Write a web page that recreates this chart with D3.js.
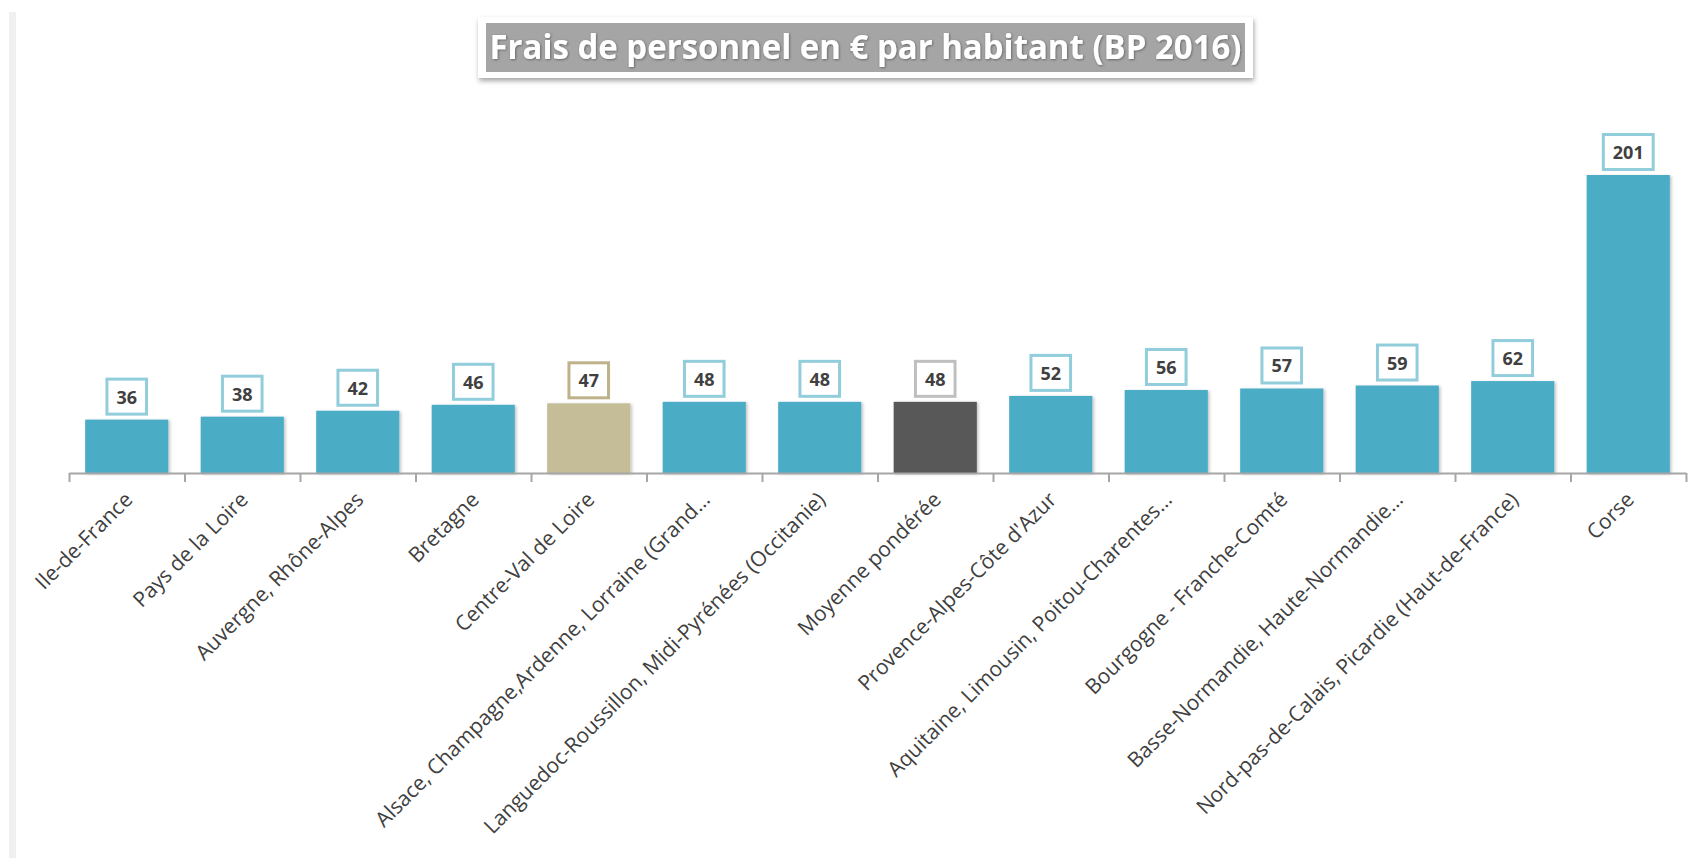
<!DOCTYPE html>
<html>
<head>
<meta charset="utf-8">
<script src="https://cdn.jsdelivr.net/npm/d3@7"></script>
<style>
  body { margin: 0; background: #fff; }
  svg { display: block; }
</style>
</head>
<body>
<svg id="chart"></svg>
<script>
// data
const categories = [
  "Ile-de-France",
  "Pays de la Loire",
  "Auvergne, Rhône-Alpes",
  "Bretagne",
  "Centre-Val de Loire",
  "Alsace, Champagne,Ardenne, Lorraine (Grand…",
  "Languedoc-Roussillon, Midi-Pyrénées (Occitanie)",
  "Moyenne pondérée",
  "Provence-Alpes-Côte d'Azur",
  "Aquitaine, Limousin, Poitou-Charentes…",
  "Bourgogne - Franche-Comté",
  "Basse-Normandie, Haute-Normandie…",
  "Nord-pas-de-Calais, Picardie (Haut-de-France)",
  "Corse"
];
const values = [36, 38, 42, 46, 47, 48, 48, 48, 52, 56, 57, 59, 62, 201];
const title = "Frais de personnel en € par habitant (BP 2016)";

const highlighted = "Centre-Val de Loire";
const average = "Moyenne pondérée";

const width = 1695, height = 858;
const axisY = 473;

const svg = d3.select("#chart")
  .attr("width", width)
  .attr("height", height);

const defs = svg.append("defs");
const barShadow = defs.append("filter").attr("id", "barShadow")
  .attr("x", "-10%").attr("y", "-10%").attr("width", "130%").attr("height", "130%");
barShadow.append("feDropShadow")
  .attr("dx", 1.5).attr("dy", 1).attr("stdDeviation", 1.5)
  .attr("flood-color", "#000").attr("flood-opacity", 0.25);

const boxShadow = defs.append("filter").attr("id", "boxShadow")
  .attr("x", "-5%").attr("y", "-20%").attr("width", "110%").attr("height", "150%");
boxShadow.append("feDropShadow")
  .attr("dx", 1).attr("dy", 3).attr("stdDeviation", 2.5)
  .attr("flood-color", "#000").attr("flood-opacity", 0.35);

const textShadow = defs.append("filter").attr("id", "textShadow");
textShadow.append("feDropShadow")
  .attr("dx", 0.8).attr("dy", 0.8).attr("stdDeviation", 0.8)
  .attr("flood-color", "#333").attr("flood-opacity", 0.6);

// light strip on the left edge
svg.append("rect")
  .attr("x", 9).attr("y", 12)
  .attr("width", 7).attr("height", height - 12)
  .attr("fill", "#f0f0f0");

const pad = 0.28;
const x = d3.scaleBand()
  .domain(categories)
  .range([69, 1686])
  .paddingInner(pad)
  .paddingOuter(pad / 2);

const edge = d3.scaleLinear()
  .domain([0, categories.length])
  .range([69, 1686]);

const y = d3.scaleLinear()
  .domain([0, 201])
  .range([axisY, 175]);

function barColor(c) {
  if (c === highlighted) return "#c4bd97";
  if (c === average) return "#595959";
  return "#4bacc6";
}
function boxColor(c) {
  if (c === highlighted) return "#bdb28a";
  if (c === average) return "#bfbfbf";
  return "#92cddc";
}

// bars
svg.append("g")
  .selectAll("rect")
  .data(categories)
  .enter()
  .append("rect")
  .attr("x", c => x(c))
  .attr("y", (c, i) => y(values[i]))
  .attr("width", x.bandwidth())
  .attr("height", (c, i) => axisY - y(values[i]))
  .attr("fill", c => barColor(c))
  .attr("filter", "url(#barShadow)");

// axis line with ticks on the category boundaries
const axis = svg.append("g")
  .attr("transform", "translate(0," + axisY + ")")
  .call(d3.axisBottom(edge)
    .tickValues(d3.range(categories.length + 1))
    .tickSize(9)
    .tickSizeOuter(0)
    .tickFormat(""));
axis.selectAll("path, line")
  .attr("stroke", "#a6a6a6")
  .attr("stroke-width", 2);

// category labels
const labels = svg.append("g")
  .attr("transform", "translate(0," + axisY + ")")
  .call(d3.axisBottom(x).tickSize(0).tickSizeOuter(0));
labels.select(".domain").remove();
labels.selectAll("text")
  .attr("x", 0).attr("y", 0).attr("dy", 0)
  .attr("transform", "translate(7,28) rotate(-45)")
  .style("text-anchor", "end")
  .style("font-family", "'Open Sans', sans-serif")
  .style("font-size", "21px")
  .attr("fill", "#404040");

// value labels in boxes
const vals = svg.append("g")
  .selectAll("g")
  .data(categories)
  .enter()
  .append("g")
  .attr("transform", (c, i) => "translate(" + (x(c) + x.bandwidth() / 2) + "," + (y(values[i]) - 4) + ")");

const boxRects = vals.append("rect")
  .attr("fill", "#fff")
  .attr("stroke", c => boxColor(c))
  .attr("stroke-width", 3);

const boxTexts = vals.append("text")
  .attr("x", 0)
  .attr("y", -12)
  .attr("text-anchor", "middle")
  .style("font-family", "'Open Sans', sans-serif")
  .style("font-weight", "bold")
  .style("font-size", "18px")
  .attr("fill", "#404040")
  .text((c, i) => values[i]);

boxTexts.each(function() {
  const w = this.getComputedTextLength() + 22;
  d3.select(this.previousSibling)
    .attr("x", -w / 2 + 1.5)
    .attr("y", -38 + 1.5)
    .attr("width", w - 3)
    .attr("height", 38 - 3);
});

// title
const tg = svg.append("g");
tg.append("rect")
  .attr("x", 478).attr("y", 17)
  .attr("width", 775).attr("height", 61)
  .attr("fill", "#fff")
  .attr("filter", "url(#boxShadow)");
tg.append("rect")
  .attr("x", 486).attr("y", 23)
  .attr("width", 759).attr("height", 49)
  .attr("fill", "#a5a5a5");
const tt = tg.append("text")
  .attr("x", 865.5)
  .attr("y", 59)
  .attr("text-anchor", "middle")
  .style("font-family", "'Open Sans', sans-serif")
  .style("font-weight", "bold")
  .style("font-size", "34px")
  .attr("fill", "#fff")
  .attr("filter", "url(#textShadow)")
  .text(title);
if (tt.node().getComputedTextLength() > 752) {
  tt.attr("textLength", 752).attr("lengthAdjust", "spacingAndGlyphs");
}
</script>
</body>
</html>
